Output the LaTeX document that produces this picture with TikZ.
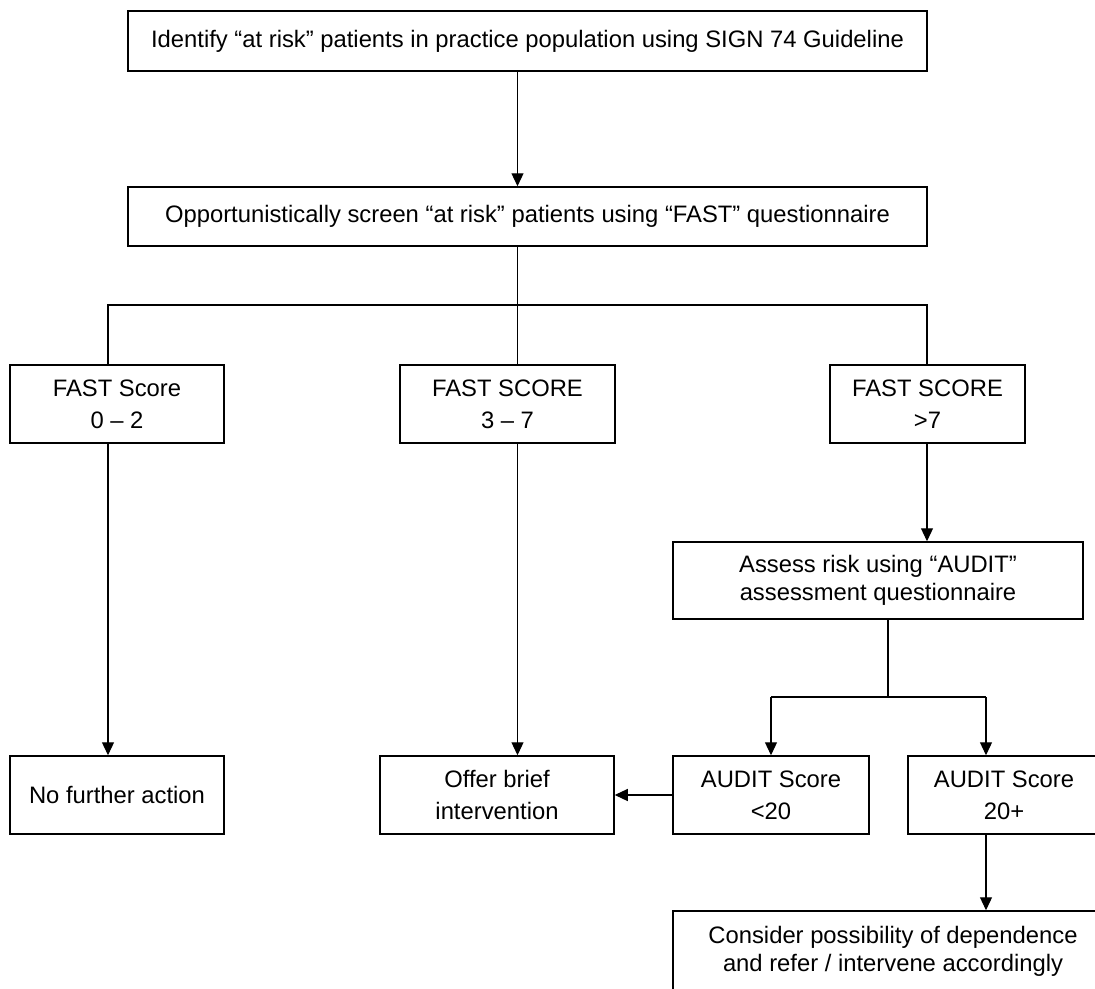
\documentclass[tikz,border=0pt]{standalone}
\usepackage{fontspec}
\setmainfont{Liberation Sans}
\usetikzlibrary{arrows.meta}
\tikzset{
	box/.style={draw, rectangle, line width=1.5pt, align=center, inner sep=0pt,
		font=\fontsize{23.8}{32}\selectfont},
	tight/.style={font=\fontsize{23.8}{28}\selectfont},
	link/.style={line width=1.2pt},
	arr/.style={link, -{Triangle[length=13pt, width=12pt]}}
}

\begin{document}
\begin{tikzpicture}[x=1pt, y=-1pt]
	\useasboundingbox (0,0) rectangle (1095,988);
	\clip (0,0) rectangle (1095,988);
	% top two steps
	\node [box, minimum width=799pt, minimum height=60pt] (ident) at (527.5,41)
		{Identify “at risk” patients in practice population using SIGN 74 Guideline};
	\node [box, minimum width=799pt, minimum height=59pt] (screen) at (527.5,216.5)
		{Opportunistically screen “at risk” patients using “FAST” questionnaire};
	% FAST scores
	\node [box, minimum width=214pt, minimum height=78pt] (fastlow) at (117,404)
		{FAST Score\\0 – 2};
	\node [box, minimum width=215pt, minimum height=78pt] (fastmid) at (507.5,404)
		{FAST SCORE\\3 – 7};
	\node [box, minimum width=195pt, minimum height=78pt] (fasthigh) at (927.5,404)
		{FAST SCORE\\>7};
	\node [box, tight, minimum width=410pt, minimum height=77pt] (audit) at (878,580.5)
		{Assess risk using “AUDIT”\\assessment questionnaire};
	% outcomes
	\node [box, minimum width=214pt, minimum height=78pt] (noaction) at (117,795)
		{No further action};
	\node [box, minimum width=234pt, minimum height=78pt] (brief) at (497,795)
		{Offer brief\\intervention};
	\node [box, minimum width=196pt, minimum height=78pt] (auditlow) at (771,795)
		{AUDIT Score\\<20};
	\node [box, minimum width=192pt, minimum height=78pt] (audithigh) at (1004,795)
		{AUDIT Score\\20+};
	\node [box, tight, minimum width=440pt, minimum height=81pt] (consider) at (893,951.5)
		{Consider possibility of dependence\\and refer / intervene accordingly};
	% junction points
	\coordinate (trunk) at (517.5,0);
	\coordinate (lowline) at (108,305);
	\coordinate (highline) at (927,305);
	\coordinate (auditdrop) at (888,697);
	\coordinate (highdrop) at (986,697);
	% connectors
	\draw [arr] (ident.south -| trunk) -- (screen.north -| trunk);
	\draw [link] (screen.south -| trunk) -- (fastmid.north -| trunk);
	\draw [link] (lowline |- fastlow.north) -- (lowline) -- (highline)
		-- (highline |- fasthigh.north);
	\draw [arr] (fastlow.south -| lowline) -- (noaction.north -| lowline);
	\draw [arr] (fastmid.south -| trunk) -- (brief.north -| trunk);
	\draw [arr] (fasthigh.south -| highline) -- (audit.north -| highline);
	\draw [link] (audit.south -| auditdrop) -- (auditdrop);
	\draw [link] (auditdrop -| auditlow) -- (highdrop);
	\draw [arr] (auditdrop -| auditlow) -- (auditlow.north);
	\draw [arr] (highdrop) -- (highdrop |- audithigh.north);
	\draw [arr] (auditlow.west) -- (brief.east);
	\draw [arr] (audithigh.south -| highdrop) -- (consider.north -| highdrop);
\end{tikzpicture}
\end{document}
